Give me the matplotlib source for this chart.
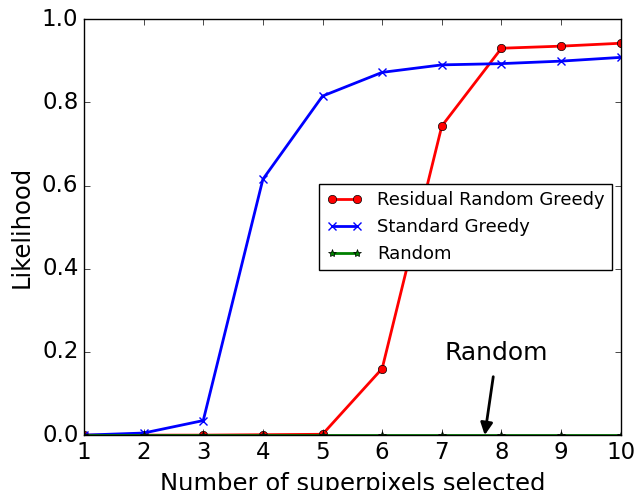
import numpy as np
import matplotlib
matplotlib.use("Agg")
import matplotlib.pyplot as plt

plt.style.use('classic')

n_selected = [1, 2, 3, 4, 5, 6, 7, 8, 9, 10]
residual_random_greedy = [0.0, 0.0, 0.0, 0.001, 0.002, 0.16, 0.743, 0.93, 0.935, 0.942]
standard_greedy = [0.0, 0.005, 0.035, 0.615, 0.815, 0.872, 0.89, 0.893, 0.899, 0.908]
random_sel = [0.0, 0.0, 0.0, 0.0, 0.0, 0.0, 0.0, 0.0, 0.0, 0.0]

fig = plt.figure(figsize=(6.36, 4.9), dpi=100, facecolor='white')
ax = fig.add_subplot(111)
fig.subplots_adjust(left=0.132, right=0.976, top=0.961, bottom=0.112)

ax.plot(n_selected, residual_random_greedy, 'r-o', lw=2, ms=6, label='Residual Random Greedy')
ax.plot(n_selected, standard_greedy, 'b-x', lw=2, ms=6, mew=1, label='Standard Greedy')
ax.plot(n_selected, random_sel, 'g-*', lw=2, ms=6, label='Random')

ax.annotate('Random', xy=(7.72, 0.0), xytext=(7.92, 0.197), fontsize=18,
            ha='center', va='center',
            arrowprops=dict(facecolor='black', arrowstyle='-|>', lw=2, shrinkA=6, shrinkB=0,
                            mutation_scale=18))

ax.set_xlim(1, 10)
ax.set_ylim(0, 1.0)
ax.set_xticks(n_selected)
ax.set_yticks([0.0, 0.2, 0.4, 0.6, 0.8, 1.0])
ax.tick_params(labelsize=16.5)
ax.set_xlabel('Number of superpixels selected', fontsize=17.5, labelpad=6)
ax.set_ylabel('Likelihood', fontsize=17.5, labelpad=6)
ax.legend(loc='center right', fontsize=13, numpoints=2)

fig.savefig('out.png', dpi=100, facecolor='white')
